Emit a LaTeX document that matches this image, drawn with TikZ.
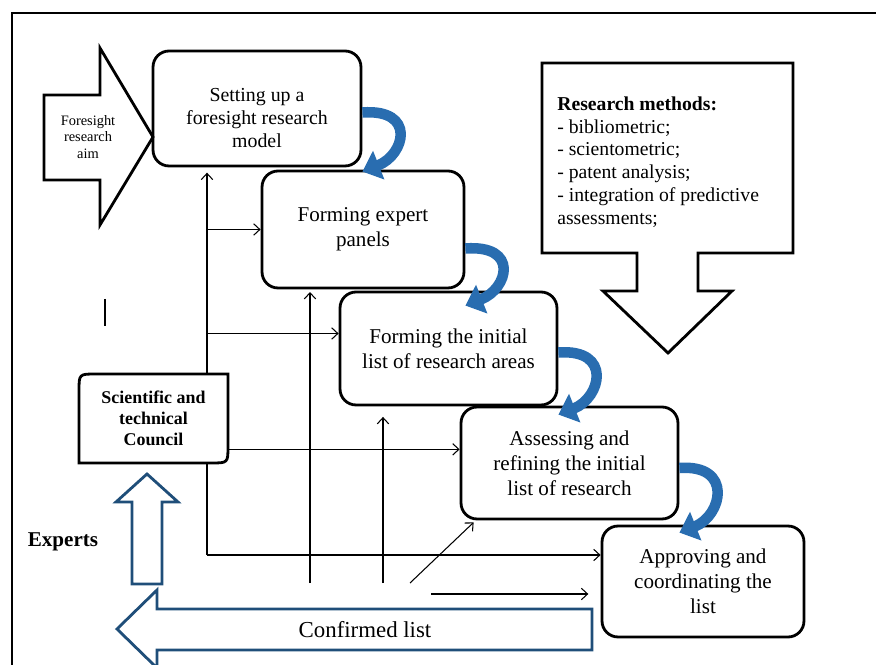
\documentclass[tikz,border=0pt]{standalone}
\usepackage{fontspec}
\setmainfont{Liberation Serif}
\usetikzlibrary{arrows.meta,positioning,calc}
\definecolor{navy}{RGB}{31,78,121}
\definecolor{curlblue}{RGB}{41,109,176}

\begin{document}
\begin{tikzpicture}[
  x=0.02cm, y=-0.02cm,
  stage/.style={draw, line width=1.6pt, rounded corners=0.32cm, align=center, inner sep=2pt, font=\fontsize{12}{14.2}\selectfont},
  flow/.style={->, line width=0.6pt},
  curl/.style={draw=curlblue, line width=6pt, -{Triangle[length=10pt,width=17pt]}},
  blockarrow/.style={draw, line width=1.6pt, line join=miter},
  navyarrow/.style={draw=navy, line width=1.6pt, line join=miter},
  >={Straight Barb[length=3.5pt,width=6.5pt]}
]
\clip (0,0) rectangle (876,665);
% frame
\draw[line width=1.6pt] (12,700) -- (12,13) -- (900,13);

% aim
\draw[blockarrow] (44,95) -- (100,95) -- (100,48) -- (153,137) -- (100,225) -- (100,180) -- (44,180) -- cycle;
\node[align=center, font=\fontsize{8.2}{9.4}\selectfont] (aim) at (88,137) {Foresight\\research\\aim};

% stages
\node[stage, minimum width=4.16cm, minimum height=2.30cm,
  label={[align=center, font=\fontsize{11.3}{13}\selectfont, yshift=-0.19cm]center:Setting up a\\foresight research\\model}] (b1) at (257,108.5) {};
\node[stage, minimum width=4.04cm, minimum height=2.34cm] (b2) at (363,229.5)
{Forming expert\\panels};
\node[stage, minimum width=4.34cm, minimum height=2.26cm] (b3) at (448.5,348.5)
{Forming the initial\\list of research areas};
\node[stage, minimum width=4.34cm, minimum height=2.24cm] (b4) at (569.5,463)
{Assessing and\\refining the initial\\list of research};
\node[stage, minimum width=4.04cm, minimum height=2.22cm] (b5) at (703,581.5)
{Approving and\\coordinating the\\list};

% research methods
\draw[blockarrow] (542,63) -- (793,63) -- (793,253) -- (698,253) -- (698,291) -- (732,291) -- (668,353)
  -- (603,291) -- (637,291) -- (637,253) -- (542,253) -- cycle;
\node[anchor=west, align=left, inner sep=0pt, font=\fontsize{11.2}{13}\selectfont] (methods) at (557,162)
{\textbf{Research methods:}\\- bibliometric;\\- scientometric;\\- patent analysis;\\- integration of predictive\\assessments;};

% council
\draw[line width=1.6pt] (79,463) -- (79,391) .. controls (79,374) .. (96,374) -- (228,374)
  -- (228,446) .. controls (228,463) .. (211,463) -- cycle;
\node[minimum width=2.98cm, minimum height=1.78cm, align=center, font=\bfseries\fontsize{10.2}{12}\selectfont] (council) at (153.5,418.5)
{Scientific and\\technical\\Council};

% experts
\node[font=\bfseries\fontsize{12}{14}\selectfont] (experts) at (63,542) {Experts};
\draw[navyarrow] (132,584) -- (162,584) -- (162,502) -- (178,502) -- (147,474) -- (116,502) -- (132,502) -- cycle;

% confirmed list
\draw[navyarrow] (592,609) -- (592,650) -- (157,650) -- (157,668) -- (117,629) -- (157,590) -- (157,609) -- cycle;
\node[font=\fontsize{13}{15}\selectfont] (confirmed) at (365,630) {Confirmed list};

\draw[line width=0.6pt] (105,299) -- (105,326);

% feedback lines
\coordinate (trunk) at (207,555);
\draw[line width=0.6pt] (trunk) -- (trunk |- council.south);
\draw[flow, shorten >=3pt] (trunk |- council.north) -- (trunk |- b1.south);
\draw[flow] (trunk |- b2.west) -- (b2.west);
\draw[flow] ($(trunk |- b3.west)+(0,-15)$) -- ($(b3.west)+(0,-15)$);
\draw[flow] ($(council.south east)+(0,-14)$) -- ($(council.south east -| b4.west)+(0,-14)$);
\draw[flow] (trunk) -- (trunk -| b5.west);

\coordinate (foot1) at (310,583);
\coordinate (foot2) at (383,583);
\coordinate (foot3) at (410,583);
\coordinate (foot4) at (431,594);
\draw[flow, shorten >=1.5pt] (foot1) -- (foot1 |- b2.south);
\draw[flow, shorten >=6pt] (foot2) -- (foot2 |- b3.south);
\draw[flow] (foot3) -- ($(b4.south west)+(14,2)$);
\draw[flow, shorten >=7pt] (foot4) -- (foot4 -| b5.west);

% stage to stage
\draw[curl] ($(b1.east)+(0,4)$) .. controls +(54,-4) and +(43,-17) .. ($(b1.east |- b2.north)+(0,2)$);
\draw[curl] ($(b2.east)+(0,19)$) .. controls +(54,-4) and +(43,-17) .. ($(b2.east |- b3.north)+(0,15)$);
\draw[curl] ($(b3.east)+(0,4)$) .. controls +(54,-4) and +(43,-17) .. ($(b3.east |- b4.north)+(0,9)$);
\draw[curl] ($(b4.east)+(0,5)$) .. controls +(54,-4) and +(43,-17) .. ($(b4.east |- b5.north)+(0,8)$);
\end{tikzpicture}
\end{document}
